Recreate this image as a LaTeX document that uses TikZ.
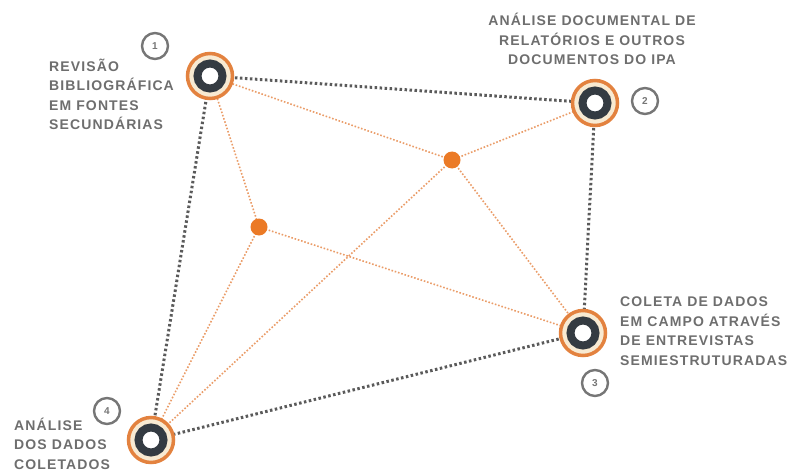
\documentclass[tikz,border=0pt]{standalone}
\usepackage{fontspec}
\newfontfamily\lblfont[LetterSpace=8]{Liberation Sans}
\usetikzlibrary{backgrounds}
\definecolor{ringor}{HTML}{E3823F}
\definecolor{ringcream}{HTML}{F8EAD2}
\definecolor{ringdark}{HTML}{343B42}
\definecolor{dotor}{HTML}{EB7A26}
\definecolor{lineor}{HTML}{EA9C68}
\definecolor{linegray}{HTML}{5A5A5A}
\definecolor{txtgray}{HTML}{6E6E6E}
\definecolor{numgray}{HTML}{767676}
\tikzset{
  hubout/.style={circle, draw=ringor, line width=3.5pt, fill=ringcream, minimum size=45pt, inner sep=0pt},
  hubin/.style={circle, draw=ringdark, line width=8pt, fill=white, minimum size=25pt, inner sep=0pt},
  midpt/.style={circle, fill=dotor, minimum size=17pt, inner sep=0pt},
  numbox/.style={circle, draw=numgray, line width=2.4pt, fill=white, minimum size=26pt, inner sep=0pt, text=numgray, font=\lblfont\bfseries\fontsize{10}{11}\selectfont},
  lbl/.style={inner sep=0pt, text=txtgray, font=\lblfont\bfseries\fontsize{14}{19.5}\selectfont},
  grayline/.style={draw=linegray, line width=3pt, dash pattern=on 2.5pt off 2.5pt},
  orline/.style={draw=lineor, line width=1.6pt, dash pattern=on 1.6pt off 1.8pt},
}
\begin{document}
\begin{tikzpicture}[x=1pt,y=-1pt]
\useasboundingbox (0,0) rectangle (791,473);
% hubs
\node[hubout] (h1) at (210,76) {};
\node[hubin] at (h1.center) {};
\node[hubout] (h2) at (595,103) {};
\node[hubin] at (h2.center) {};
\node[hubout] (h3) at (583,333) {};
\node[hubin] at (h3.center) {};
\node[hubout] (h4) at (151,440) {};
\node[hubin] at (h4.center) {};
% intermediate points
\node[midpt] (a) at (452,160) {};
\node[midpt] (b) at (259,227) {};
% connectors
\begin{scope}[on background layer]
\draw[grayline] (h1.center) -- (h2.center);
\draw[grayline] (h2.center) -- (h3.center);
\draw[grayline] (h3.center) -- (h4.center);
\draw[grayline] (h4.center) -- (h1.center);
\draw[orline] (h1.center) -- (a.center);
\draw[orline] (a.center) -- (h2.center);
\draw[orline] (h1.center) -- (b.center);
\draw[orline] (b.center) -- (h3.center);
\draw[orline] (a.center) -- (h3.center);
\draw[orline] (a.center) -- (h4.center);
\draw[orline] (b.center) -- (h4.center);
\end{scope}
% number badges
\node[numbox] (n1) at (155,46) {1};
\node[numbox] (n2) at (645,101) {2};
\node[numbox] (n3) at (595,383) {3};
\node[numbox] (n4) at (107,411) {4};
% labels (base anchor = baseline of last line)
\node[lbl, anchor=base west, align=left] (t1) at (49,130) {REVISÃO\\BIBLIOGRÁFICA\\EM FONTES\\SECUNDÁRIAS};
\node[lbl, anchor=base, align=center] (t2) at (592,65) {ANÁLISE DOCUMENTAL DE\\RELATÓRIOS E OUTROS\\DOCUMENTOS DO IPA};
\node[lbl, anchor=base west, align=left] (t3) at (620,365) {COLETA DE DADOS\\EM CAMPO ATRAVÉS\\DE ENTREVISTAS\\SEMIESTRUTURADAS};
\node[lbl, anchor=base west, align=left] (t4) at (14,469) {ANÁLISE\\DOS DADOS\\COLETADOS};
\end{tikzpicture}
\end{document}
